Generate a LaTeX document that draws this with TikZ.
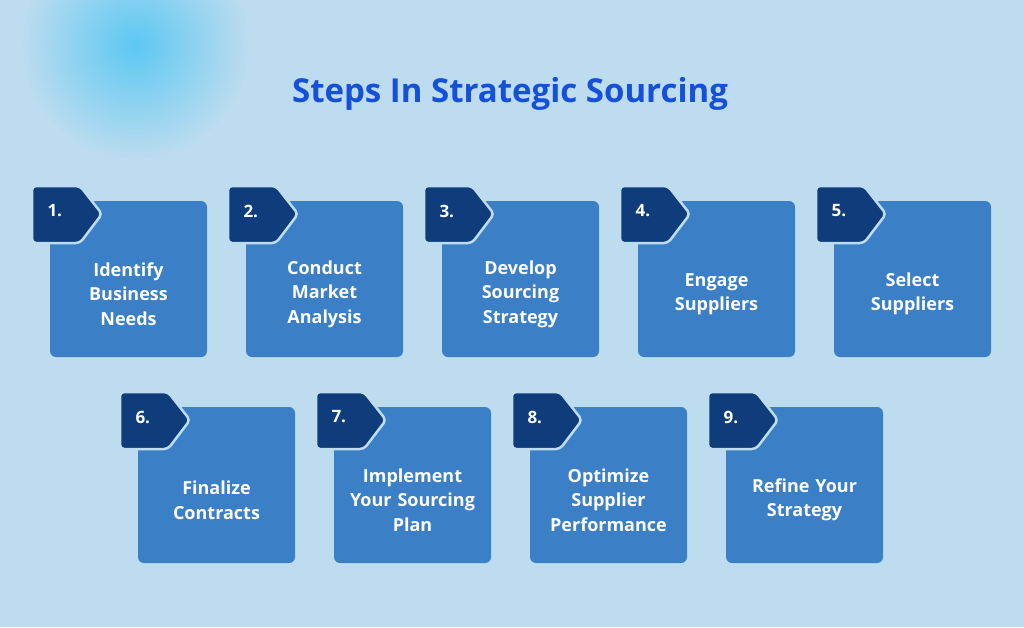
\documentclass[tikz,border=0pt]{standalone}
\usepackage{fontspec}
\setmainfont{Open Sans}
\definecolor{bgblue}{HTML}{BDDCEF}
\definecolor{boxblue}{HTML}{3B7FC6}
\definecolor{tagblue}{HTML}{0F3D7B}
\definecolor{titleblue}{HTML}{1450DA}
\definecolor{glow}{HTML}{5CC8F2}
\begin{document}
\begin{tikzpicture}[x=1pt,y=-1pt,
 stepbox/.style={fill=boxblue, rounded corners=6pt},
 steptag/.style={fill=tagblue, draw=bgblue, line width=2.5pt, rounded corners=4pt},
 steptext/.style={text=white, font=\bfseries\fontsize{18}{24.5}\selectfont, align=center, text width=155pt},
 tagtext/.style={text=white, font=\bfseries\fontsize{17}{20}\selectfont, anchor=west}]
  \fill[bgblue] (0,0) rectangle (1024,627);
  \useasboundingbox (0,0) rectangle (1024,627);
  \shade[inner color=glow, outer color=bgblue] (135,45) circle (115);
  \node[text=titleblue, font=\bfseries\fontsize{33}{38}\selectfont] (title) at (510,94) {Steps In Strategic Sourcing};
  % boxes: x, y, number, label
  \foreach \x/\y/\n/\t in {50/201/1/{Identify\\Business\\Needs}, 246/201/2/{Conduct\\Market\\Analysis},
      442/201/3/{Develop\\Sourcing\\Strategy}, 638/201/4/{Engage\\Suppliers}, 834/201/5/{Select\\Suppliers},
      138/407/6/{Finalize\\Contracts}, 334/407/7/{Implement\\Your Sourcing\\Plan},
      530/407/8/{Optimize\\Supplier\\Performance}, 726/407/9/{Refine Your\\Strategy}}{
    \fill[stepbox] (\x,\y) rectangle ++(157,156);
    \node[steptext] (box\n) at (\x+78.5,\y+93) {\t};
    \draw[steptag] (\x-18,\y-15) -- ++(48,0) -- ++(22,28) -- ++(-22,29) -- ++(-48,0) -- cycle;
    \node[tagtext] (tag\n) at (\x-6,\y+10) {\n.};
  }
\end{tikzpicture}
\end{document}
